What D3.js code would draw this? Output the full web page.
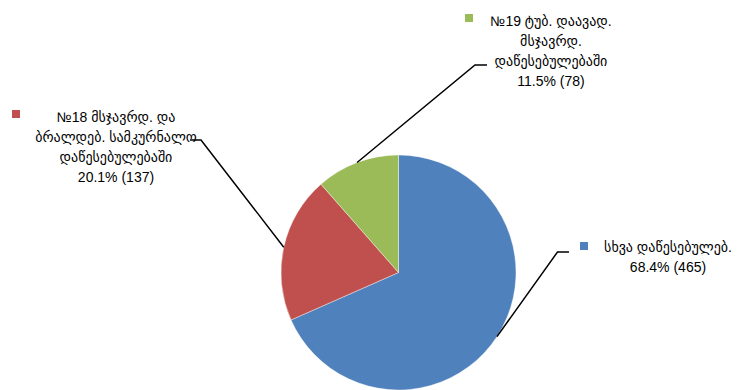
<!DOCTYPE html>
<html>
<head>
<meta charset="utf-8">
<script src="https://cdn.jsdelivr.net/npm/d3@7"></script>
<style>
  html, body { margin: 0; padding: 0; background: #fff; }
  svg text { font-family: "Liberation Sans", "DejaVu Sans", sans-serif; font-size: 14px; fill: #000; }
</style>
</head>
<body>
<svg id="chart" width="740" height="390"></svg>
<script>
// ---- data ----
const categories = [
  "სხვა დაწესებულებ.",
  "№18 მსჯავრდ. და ბრალდებ. სამკურნალო დაწესებულებაში",
  "№19 ტუბ. დაავად. მსჯავრდ. დაწესებულებაში"
];
const labelLines = [
  ["სხვა დაწესებულებ."],
  ["№18 მსჯავრდ. და", "ბრალდებ. სამკურნალო", "დაწესებულებაში"],
  ["№19 ტუბ. დაავად.", "მსჯავრდ.", "დაწესებულებაში"]
];
const values = [465, 137, 78];
const colors = ["#4F81BD", "#C0504D", "#9BBB59"];

// ---- layout (positions only) ----
const cx = 398.5, cy = 272.5, radius = 117.5;
const lineH = 20;
const labelLayout = [
  { bend: [557.5, 252], end: [569, 252], textX: 668, firstBaseline: 252, marker: [580, 242] },
  { bend: [201, 140],   end: [190, 140], textX: 116, firstBaseline: 122, marker: [12, 110] },
  { bend: [475, 65],    end: [487, 65],  textX: 551, firstBaseline: 26,  marker: [465, 14] }
];

const svg = d3.select("#chart");
const total = d3.sum(values);
const fmtPct = d3.format(".1%");

const pie = d3.pie().sort(null).value(d => d).startAngle(0).endAngle(2 * Math.PI);
const arcs = pie(values);
const arc = d3.arc().innerRadius(0).outerRadius(radius);

const g = svg.append("g").attr("transform", `translate(${cx},${cy})`);
g.selectAll("path.slice")
  .data(arcs)
  .join("path")
  .attr("class", "slice")
  .attr("d", arc)
  .attr("fill", (d, i) => colors[i])
  .attr("stroke", "#ffffff")
  .attr("stroke-width", 0.4);

// leader lines
const line = d3.line();
arcs.forEach((d, i) => {
  const a = (d.startAngle + d.endAngle) / 2;
  const start = [cx + radius * Math.sin(a), cy - radius * Math.cos(a)];
  const L = labelLayout[i];
  svg.append("path")
    .attr("d", line([start, L.bend, L.end]))
    .attr("fill", "none")
    .attr("stroke", "#000")
    .attr("stroke-width", 1.5);
});

// labels
arcs.forEach((d, i) => {
  const L = labelLayout[i];
  svg.append("rect")
    .attr("x", L.marker[0]).attr("y", L.marker[1])
    .attr("width", 8).attr("height", 8)
    .attr("fill", colors[i]);
  const lines = labelLines[i].concat([`${fmtPct(values[i] / total)} (${values[i]})`]);
  const t = svg.append("text").attr("text-anchor", "middle");
  lines.forEach((s, k) => {
    t.append("tspan")
      .attr("x", L.textX)
      .attr("y", L.firstBaseline + k * lineH)
      .text(s);
  });
});
</script>
</body>
</html>
